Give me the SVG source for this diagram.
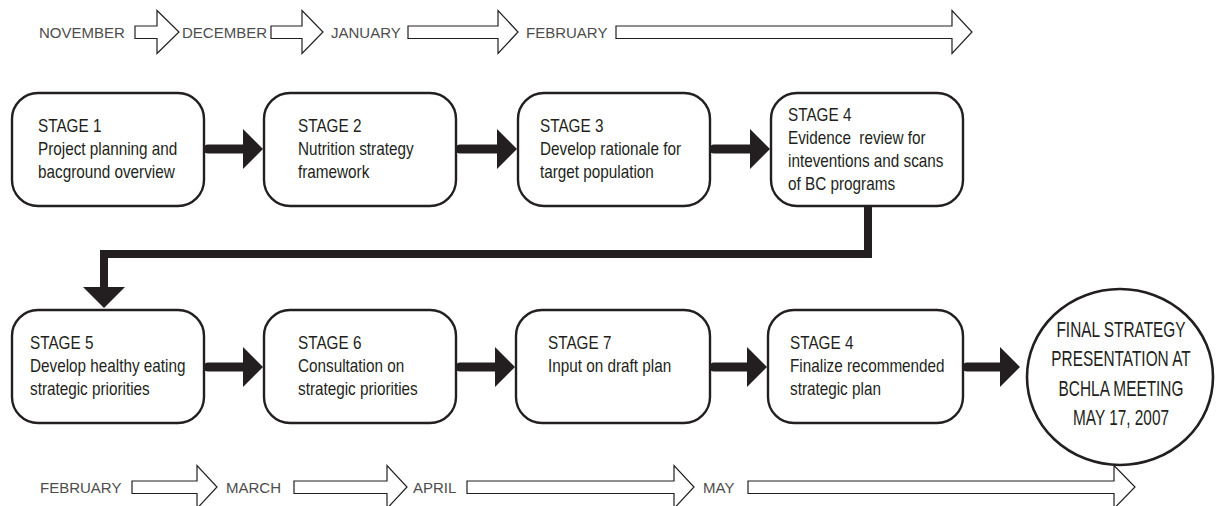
<svg xmlns="http://www.w3.org/2000/svg" width="1217" height="506" viewBox="0 0 1217 506">
<style>
.bg{fill:#fff}
.box{fill:#fff;stroke:#231f20;stroke-width:2.4}
.tl{fill:#fff;stroke:#231f20;stroke-width:1.2;stroke-linejoin:miter}
.mon{font-family:"Liberation Sans",Arial,sans-serif;font-size:15px;fill:#4d4d4d}
.bt{font-family:"Liberation Sans",Arial,sans-serif;font-size:18px;fill:#231f20}
.ct{font-family:"Liberation Sans",Arial,sans-serif;font-size:22px;fill:#231f20;text-anchor:middle}
.shaft{fill:none;stroke:#231f20;stroke-width:9;stroke-linecap:round}
.bend{fill:none;stroke:#231f20;stroke-width:8;stroke-linejoin:miter}
.head{fill:#231f20}
</style>
<rect class="bg" x="0" y="0" width="1217" height="506"/>

<g id="timeline-top">
  <text class="mon" x="39" y="38">NOVEMBER</text>
  <polygon class="tl" points="135,26 157,26 157,10.5 179,32 157,53.5 157,38.5 135,38.5"/>
  <text class="mon" x="182" y="38">DECEMBER</text>
  <polygon class="tl" points="271,26 302,26 302,10.5 323,32 302,53.5 302,38.5 271,38.5"/>
  <text class="mon" x="331" y="38">JANUARY</text>
  <polygon class="tl" points="408,26 498,26 498,10.5 518,32 498,53.5 498,38.5 408,38.5"/>
  <text class="mon" x="526" y="38">FEBRUARY</text>
  <polygon class="tl" points="616,26 952,26 952,10.5 972,32 952,53.5 952,38.5 616,38.5"/>
</g>

<g id="timeline-bottom">
  <text class="mon" x="40" y="493">FEBRUARY</text>
  <polygon class="tl" points="132,481 197,481 197,465.5 217,487 197,508.5 197,493.5 132,493.5"/>
  <text class="mon" x="226" y="493">MARCH</text>
  <polygon class="tl" points="294,481 387,481 387,465.5 407,487 387,508.5 387,493.5 294,493.5"/>
  <text class="mon" x="413" y="493">APRIL</text>
  <polygon class="tl" points="467,481 674,481 674,465.5 694,487 674,508.5 674,493.5 467,493.5"/>
  <text class="mon" x="703" y="493">MAY</text>
  <polygon class="tl" points="748,481 1114,481 1114,465.5 1135,487 1114,508.5 1114,493.5 748,493.5"/>
</g>

<g id="connectors">
  <line class="shaft" x1="208" y1="149" x2="246" y2="149"/>
  <polygon class="head" points="243,129 263,149 243,169"/>
  <line class="shaft" x1="460" y1="149" x2="500" y2="149"/>
  <polygon class="head" points="497,129 517,149 497,169"/>
  <line class="shaft" x1="714" y1="149" x2="753" y2="149"/>
  <polygon class="head" points="750,129 770,149 750,169"/>
  <path class="bend" d="M868,206 V254 H104 V290"/>
  <polygon class="head" points="83,287 125,287 104,308"/>
  <line class="shaft" x1="208" y1="367" x2="246" y2="367"/>
  <polygon class="head" points="243,347 263,367 243,387"/>
  <line class="shaft" x1="460" y1="367" x2="498" y2="367"/>
  <polygon class="head" points="495,347 515,367 495,387"/>
  <line class="shaft" x1="714" y1="367" x2="750" y2="367"/>
  <polygon class="head" points="747,347 767,367 747,387"/>
  <line class="shaft" x1="967" y1="367" x2="1003" y2="367"/>
  <polygon class="head" points="1000,347 1020,367 1000,387"/>
</g>

<g id="stage1">
  <rect class="box" x="12" y="93" width="192" height="113" rx="26"/>
  <g transform="translate(38,0) scale(0.85,1)">
    <text class="bt" x="0" y="132">STAGE 1</text>
    <text class="bt" x="0" y="155">Project planning and</text>
    <text class="bt" x="0" y="178">bacground overview</text>
  </g>
</g>
<g id="stage2">
  <rect class="box" x="264" y="93" width="192" height="113" rx="26"/>
  <g transform="translate(298,0) scale(0.85,1)">
    <text class="bt" x="0" y="132">STAGE 2</text>
    <text class="bt" x="0" y="155">Nutrition strategy</text>
    <text class="bt" x="0" y="178">framework</text>
  </g>
</g>
<g id="stage3">
  <rect class="box" x="518" y="93" width="192" height="113" rx="26"/>
  <g transform="translate(540,0) scale(0.85,1)">
    <text class="bt" x="0" y="132">STAGE 3</text>
    <text class="bt" x="0" y="155">Develop rationale for</text>
    <text class="bt" x="0" y="178">target population</text>
  </g>
</g>
<g id="stage4">
  <rect class="box" x="771" y="93" width="192" height="113" rx="26"/>
  <g transform="translate(788,0) scale(0.85,1)">
    <text class="bt" x="0" y="121">STAGE 4</text>
    <text class="bt" x="0" y="144" xml:space="preserve">Evidence  review for</text>
    <text class="bt" x="0" y="167">inteventions and scans</text>
    <text class="bt" x="0" y="190">of BC programs</text>
  </g>
</g>
<g id="stage5">
  <rect class="box" x="12" y="310" width="192" height="113" rx="26"/>
  <g transform="translate(30,0) scale(0.85,1)">
    <text class="bt" x="0" y="349">STAGE 5</text>
    <text class="bt" x="0" y="372">Develop healthy eating</text>
    <text class="bt" x="0" y="395">strategic priorities</text>
  </g>
</g>
<g id="stage6">
  <rect class="box" x="264" y="310" width="192" height="113" rx="26"/>
  <g transform="translate(298,0) scale(0.85,1)">
    <text class="bt" x="0" y="349">STAGE 6</text>
    <text class="bt" x="0" y="372">Consultation on</text>
    <text class="bt" x="0" y="395">strategic priorities</text>
  </g>
</g>
<g id="stage7">
  <rect class="box" x="516" y="310" width="194" height="113" rx="26"/>
  <g transform="translate(548,0) scale(0.85,1)">
    <text class="bt" x="0" y="349">STAGE 7</text>
    <text class="bt" x="0" y="372">Input on draft plan</text>
  </g>
</g>
<g id="stage8">
  <rect class="box" x="768" y="310" width="195" height="113" rx="26"/>
  <g transform="translate(790,0) scale(0.85,1)">
    <text class="bt" x="0" y="349">STAGE 4</text>
    <text class="bt" x="0" y="372">Finalize recommended</text>
    <text class="bt" x="0" y="395">strategic plan</text>
  </g>
</g>
<g id="final">
  <ellipse cx="1120" cy="377" rx="93" ry="88" fill="#fff" stroke="#231f20" stroke-width="2.6"/>
  <g transform="translate(1121,0) scale(0.7,1)">
    <text class="ct" x="0" y="337">FINAL STRATEGY</text>
    <text class="ct" x="0" y="366">PRESENTATION AT</text>
    <text class="ct" x="0" y="396">BCHLA MEETING</text>
    <text class="ct" x="0" y="425">MAY 17, 2007</text>
  </g>
</g>
</svg>
